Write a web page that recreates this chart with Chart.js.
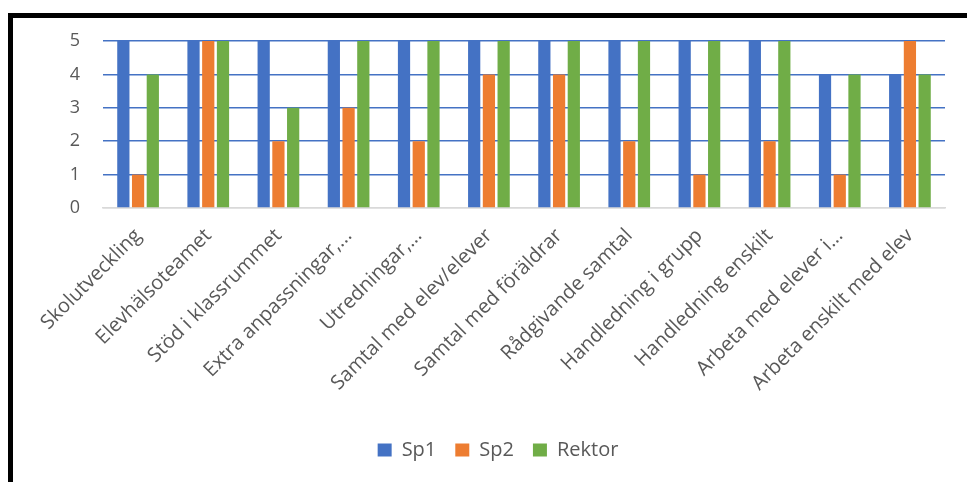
<!DOCTYPE html>
<html>
<head>
<meta charset="utf-8">
<script src="https://cdn.jsdelivr.net/npm/chart.js@4"></script>
<style>
  html, body { margin: 0; padding: 0; background: #fff; }
  #wrap { position: relative; width: 967px; height: 482px; overflow: hidden; }
  #frame {
    position: absolute; left: 8px; top: 13px; width: 1000px; height: 500px;
    border-left: 5px solid #000; border-top: 5px solid #000;
    pointer-events: none;
  }
</style>
</head>
<body>
<div id="wrap">
  <canvas id="chart" width="967" height="482"></canvas>
  <div id="frame"></div>
</div>
<script>
var categories = [
	'Skolutveckling',
	'Elevhälsoteamet',
	'Stöd i klassrummet',
	'Extra anpassningar,...',
	'Utredningar,...',
	'Samtal med elev/elever',
	'Samtal med föräldrar',
	'Rådgivande samtal',
	'Handledning i grupp',
	'Handledning enskilt',
	'Arbeta med elever i...',
	'Arbeta enskilt med elev'
];
var sp1 = [5, 5, 5, 5, 5, 5, 5, 5, 5, 5, 4, 4];
var sp2 = [1, 5, 2, 3, 2, 4, 4, 2, 1, 2, 1, 5];
var rektor = [4, 5, 3, 5, 5, 5, 5, 5, 5, 5, 4, 4];

var textColor = '#595959';
var fontFamily = '"Open Sans", sans-serif';

Chart.defaults.font.family = fontFamily;
Chart.defaults.color = textColor;

window.barChart = new Chart(document.getElementById('chart'), {
    type: 'bar',
    data: {
        labels: categories,
        datasets: [
            { label: 'Sp1', data: sp1, backgroundColor: '#4472C4' },
            { label: 'Sp2', data: sp2, backgroundColor: '#ED7D31' },
            { label: 'Rektor', data: rektor, backgroundColor: '#70AD47' }
        ]
    },
    options: {
        responsive: false,
        animation: false,
        categoryPercentage: 0.63,
        barPercentage: 0.83,
        layout: {
            // uneven side padding keeps the legend centred like the original
            padding: { top: 41, right: 22, left: 51, bottom: 12 }
        },
        plugins: {
            legend: {
                position: 'bottom',
                labels: {
                    boxWidth: 14,
                    boxHeight: 13,
                    padding: 19,
                    color: textColor,
                    font: { size: 20 }
                }
            },
            tooltip: { enabled: false }
        },
        scales: {
            x: {
                grid: { display: false },
                border: { color: '#d9d9d9', width: 1.5 },
                ticks: {
                    autoSkip: false,
                    minRotation: 45,
                    maxRotation: 45,
                    padding: 8,
                    color: textColor,
                    font: { size: 20 }
                },
                afterFit: function(scale) { scale.height = 213; }
            },
            y: {
                min: 0,
                max: 5,
                border: { display: false },
                grid: {
                    drawTicks: false,
                    lineWidth: 1.5,
                    color: function(c) { return c.tick && c.tick.value === 0 ? '#d9d9d9' : '#4472C4'; }
                },
                ticks: {
                    stepSize: 1,
                    padding: 23,
                    color: textColor,
                    font: { size: 18 }
                },
                afterFit: function(scale) { scale.width = 52; }
            }
        }
    }
});
</script>
</body>
</html>
